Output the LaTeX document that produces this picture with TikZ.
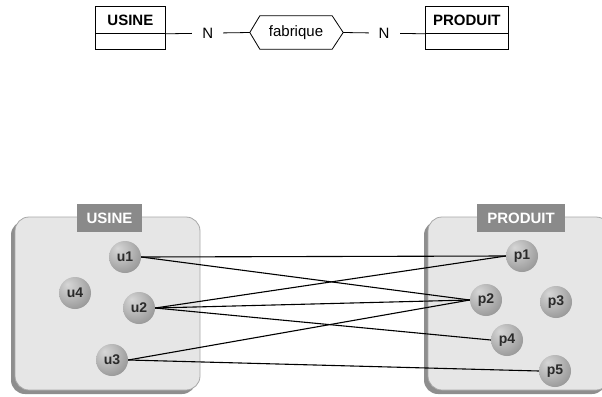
\documentclass[tikz,border=0pt]{standalone}
\usepackage{fontspec}
\setmainfont{Liberation Sans}
\usetikzlibrary{calc}
\pgfdeclareradialshading{erball}{\pgfpoint{-12bp}{14bp}}{color(0bp)=(black!16); color(18bp)=(black!28); color(40bp)=(black!46); color(60bp)=(black!62)}
\definecolor{boxfill}{HTML}{E6E6E6}
\definecolor{boxline}{HTML}{A8A8A8}
\definecolor{shadowc}{HTML}{8E8E8E}
\definecolor{labelfill}{HTML}{8A8A8A}
\definecolor{balltext}{HTML}{2A2A2A}
\tikzset{
  entitytitle/.style={draw, line width=0.8pt, minimum width=70pt, minimum height=27pt, inner sep=0pt, font=\fontsize{15}{17}\selectfont\bfseries, anchor=north west},
  entitybody/.style={draw, line width=0.8pt, minimum width=70pt, minimum height=16pt, inner sep=0pt, anchor=north west},
  relbox/.style={minimum width=72pt, minimum height=33pt, inner sep=0pt, font=\fontsize{15}{17}\selectfont},
  card/.style={fill=white, inner xsep=10pt, inner ysep=2pt, font=\fontsize{15}{17}\selectfont},
  erline/.style={line width=0.8pt},
  container/.style={fill=boxfill, draw=boxline, line width=0.8pt, rounded corners=14pt},
  containershadow/.style={fill=shadowc, rounded corners=14pt},
  setlabel/.style={fill=labelfill, text=white, font=\fontsize{15}{17}\selectfont\bfseries, minimum height=28pt, inner xsep=6pt, inner ysep=0pt},
  elem/.style={circle, shading=erball, minimum size=32pt, inner sep=0pt, text=balltext, font=\fontsize{14}{16}\selectfont\bfseries},
  link/.style={line width=1.1pt, black}
}
\begin{document}
\begin{tikzpicture}[x=1pt,y=-1pt]
\useasboundingbox (0,0) rectangle (602,396);
% ER diagram
\node[entitytitle] (ut) at (95,6) {USINE};
\node[entitybody] (ub) at (95,33) {};
\node[entitytitle, minimum width=83pt] (pt) at (425,6) {PRODUIT};
\node[entitybody, minimum width=83pt] (pb) at (425,33) {};
\node[relbox] (fab) at (296,32.5) {fabrique};
\coordinate (fabL) at ($(fab.west)+(-10,0)$);
\coordinate (fabR) at ($(fab.east)+(11,0)$);
\draw[erline] (fabL) -- (fab.north west) -- (fab.north east) -- (fabR) -- (fab.south east) -- (fab.south west) -- cycle;
\draw[erline] (ut.south east) -- node[card] (n1) {N} (fabL);
\draw[erline] (fabR) -- node[card] (n2) {N} (pt.south west);
% containers
\fill[containershadow] (11,221) rectangle (196,394);
\draw[container] (15,217) rectangle (200,390);
\fill[containershadow] (424,221) rectangle (606,394);
\draw[container] (428,217) rectangle (610,390);
\node[setlabel, minimum width=65pt] (lu) at (109.5,218) {USINE};
\node[setlabel, minimum width=88pt] (lp) at (521,218) {PRODUIT};
% elements
\node[elem] (u1) at (125,257) {u1};
\node[elem] (u4) at (75,293) {u4};
\node[elem] (u2) at (139,308) {u2};
\node[elem] (u3) at (112,360) {u3};
\node[elem] (p1) at (522,256) {p1};
\node[elem] (p2) at (486,300) {p2};
\node[elem] (p3) at (556,302) {p3};
\node[elem] (p4) at (507,340) {p4};
\node[elem] (p5) at (555,371) {p5};
% links
\draw[link] (u1.east) -- (p1.west);
\draw[link] (u1.east) -- (p2.west);
\draw[link] (u2.east) -- (p1.west);
\draw[link] (u2.east) -- (p2.west);
\draw[link] (u2.east) -- (p4.west);
\draw[link] (u3.east) -- (p2.west);
\draw[link] (u3.east) -- (p5.west);
\end{tikzpicture}
\end{document}
